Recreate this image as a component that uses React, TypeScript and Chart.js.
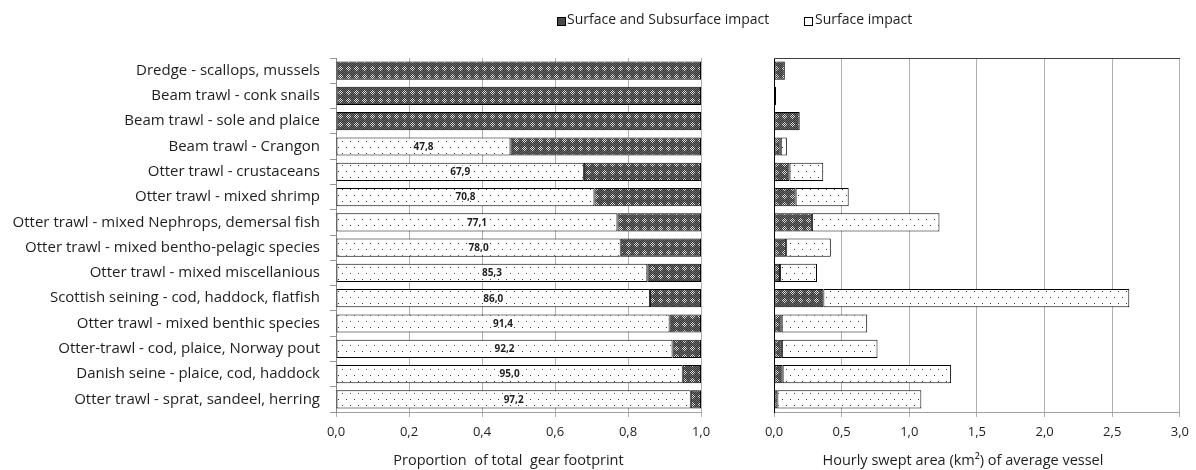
import React, { useEffect, useRef } from "react";
import { Chart, registerables } from "chart.js";

Chart.register(...registerables);

// Gear types, listed top to bottom
const gearTypes = [
  "Dredge - scallops, mussels",
  "Beam trawl - conk snails",
  "Beam trawl - sole and plaice",
  "Beam trawl - Crangon",
  "Otter trawl - crustaceans",
  "Otter trawl - mixed shrimp",
  "Otter trawl - mixed Nephrops, demersal fish",
  "Otter trawl - mixed bentho-pelagic species",
  "Otter trawl - mixed miscellanious",
  "Scottish seining - cod, haddock, flatfish",
  "Otter trawl - mixed benthic species",
  "Otter-trawl - cod, plaice, Norway pout",
  "Danish seine - plaice, cod, haddock",
  "Otter trawl - sprat, sandeel, herring",
];

// Share of the gear footprint (%) by impact type
const surfaceShare = [0, 0, 0, 47.8, 67.9, 70.8, 77.1, 78.0, 85.3, 86.0, 91.4, 92.2, 95.0, 97.2];
const subsurfaceShare = [100, 100, 100, 52.2, 32.1, 29.2, 22.9, 22.0, 14.7, 14.0, 8.6, 7.8, 5.0, 2.8];

// Hourly swept area (km²) of an average vessel, by impact type
const subsurfaceArea = [0.08, 0.015, 0.19, 0.05, 0.115, 0.16, 0.28, 0.09, 0.045, 0.365, 0.057, 0.058, 0.064, 0.025];
const surfaceArea = [0, 0, 0, 0.045, 0.249, 0.392, 0.943, 0.33, 0.273, 2.261, 0.632, 0.707, 1.245, 1.064];

// Axis ranges and tick steps
const shareAxis = { min: 0, max: 1, step: 0.2 };
const areaAxis = { min: 0, max: 3, step: 0.5 };

const legendLabels = ["Surface and Subsurface impact", "Surface impact"];
const shareTitle = "Proportion  of total  gear footprint";
const areaTitle = "Hourly swept area (km\u00b2) of average vessel";

const FONT = "'Open Sans', 'Noto Sans', sans-serif";
const TEXT = "#1e1e1e";
const GRID = "#b0b0b0";

const fmt = (v: number) => Number(v).toFixed(1).replace(".", ",");

// Dark fill: dithered grey with small light diamonds
function darkPattern(): CanvasPattern | string {
  const c = document.createElement("canvas");
  c.width = 8;
  c.height = 8;
  const g = c.getContext("2d");
  if (!g) return "#555";
  g.fillStyle = "#363636";
  g.fillRect(0, 0, 8, 8);
  for (let y = 0; y < 8; y++) {
    for (let x = 0; x < 8; x++) {
      if ((x + y) % 2 !== 0) continue;
      const d = Math.abs(x - 4) + Math.abs(y - 4);
      g.fillStyle = d <= 2 ? "#e0e0e0" : "#6a6a6a";
      g.fillRect(x, y, 1, 1);
    }
  }
  return g.createPattern(c, "repeat") || "#555";
}

// Light fill: sparse staggered dots on white
function dotPattern(): CanvasPattern | string {
  const c = document.createElement("canvas");
  c.width = 8;
  c.height = 12;
  const g = c.getContext("2d");
  if (!g) return "#fff";
  g.fillStyle = "#ffffff";
  g.fillRect(0, 0, 8, 12);
  g.fillStyle = "#3a3a3a";
  g.fillRect(2, 3, 1, 1);
  g.fillRect(6, 9, 1, 1);
  return g.createPattern(c, "repeat") || "#fff";
}

const nonZero = (arr: number[], scale = 1) => arr.map((v) => (v > 0 ? v / scale : null));

// Percentage labels centred in the surface-impact segments
const shareLabels = {
  id: "shareLabels",
  afterDatasetsDraw(chart: any) {
    const meta = chart.getDatasetMeta(0);
    const ctx = chart.ctx;
    ctx.save();
    ctx.font = `bold 10px ${FONT}`;
    ctx.textAlign = "center";
    ctx.textBaseline = "middle";
    meta.data.forEach((el: any, i: number) => {
      const v = surfaceShare[i];
      if (!v) return;
      const { x, y, base } = el.getProps(["x", "y", "base"], true);
      const cx = (x + base) / 2;
      const t = fmt(v);
      ctx.lineWidth = 3;
      ctx.strokeStyle = "#ffffff";
      ctx.strokeText(t, cx, y + 0.5);
      ctx.fillStyle = TEXT;
      ctx.fillText(t, cx, y + 0.5);
    });
    ctx.restore();
  },
};

// Top edge of the swept-area plot frame
const frameTop = {
  id: "frameTop",
  afterDraw(chart: any) {
    const { ctx, chartArea } = chart;
    ctx.save();
    ctx.strokeStyle = "#404040";
    ctx.lineWidth = 1;
    ctx.beginPath();
    ctx.moveTo(chartArea.left, Math.round(chartArea.top) + 0.5);
    ctx.lineTo(chartArea.right, Math.round(chartArea.top) + 0.5);
    ctx.stroke();
    ctx.restore();
  },
};

// Axis title under the value axis, set slightly left of the plot centre
const axisTitle = {
  id: "axisTitle",
  afterDraw(chart: any, _args: any, opts: any) {
    const { ctx, chartArea } = chart;
    ctx.save();
    ctx.font = `14.5px ${FONT}`;
    ctx.fillStyle = TEXT;
    ctx.textAlign = "center";
    ctx.textBaseline = "middle";
    const cx = (chartArea.left + chartArea.right) / 2 + (opts.shift || 0);
    ctx.fillText(opts.text, cx, chartArea.bottom + 49);
    ctx.restore();
  },
};

const tickFont = { family: FONT, size: 13 };
const catFont = { family: FONT, size: 15 };

export default function App() {
  const leftRef = useRef<HTMLCanvasElement>(null);
  const rightRef = useRef<HTMLCanvasElement>(null);

  useEffect(() => {
    if (!leftRef.current || !rightRef.current) return;
    const dark = darkPattern();
    const dots = dotPattern();
    const barStyle = {
      borderColor: "#000",
      borderWidth: 1,
      borderSkipped: false as const,
      barPercentage: 0.72,
      categoryPercentage: 1,
    };

    const left = new Chart(leftRef.current, {
      type: "bar",
      data: {
        labels: gearTypes,
        datasets: [
          { label: legendLabels[1], data: nonZero(surfaceShare, 100), backgroundColor: dots, ...barStyle },
          { label: legendLabels[0], data: nonZero(subsurfaceShare, 100), backgroundColor: dark, ...barStyle },
        ],
      },
      options: {
        indexAxis: "y",
        responsive: false,
        animation: false,
        layout: { padding: { top: 58, right: 19, left: 0, bottom: 0 } },
        plugins: {
          legend: { display: false },
          tooltip: { enabled: false },
          axisTitle: { text: shareTitle, shift: -10 },
        },
        scales: {
          x: {
            stacked: true,
            min: shareAxis.min,
            max: shareAxis.max,
            ticks: { stepSize: shareAxis.step, callback: (v: any) => fmt(v), color: TEXT, font: tickFont, padding: 7 },
            grid: { color: GRID, tickLength: 5 },
            border: { color: "#a0a0a0" },
            afterFit: (s: any) => {
              s.height = 58;
            },
          },
          y: {
            stacked: true,
            ticks: { color: TEXT, font: catFont, padding: 10, autoSkip: false },
            grid: { offset: true, drawOnChartArea: false, tickLength: 6, color: "#999" },
            border: { color: "#888" },
            afterFit: (s: any) => {
              s.width = 336;
            },
          },
        },
      } as any,
      plugins: [shareLabels, axisTitle],
    });

    const right = new Chart(rightRef.current, {
      type: "bar",
      data: {
        labels: gearTypes,
        datasets: [
          { label: legendLabels[0], data: nonZero(subsurfaceArea), backgroundColor: dark, ...barStyle },
          { label: legendLabels[1], data: nonZero(surfaceArea), backgroundColor: dots, ...barStyle },
        ],
      },
      options: {
        indexAxis: "y",
        responsive: false,
        animation: false,
        layout: { padding: { top: 58, right: 13, left: 0, bottom: 0 } },
        plugins: {
          legend: { display: false },
          tooltip: { enabled: false },
          axisTitle: { text: areaTitle, shift: -14 },
        },
        scales: {
          x: {
            stacked: true,
            min: areaAxis.min,
            max: areaAxis.max,
            ticks: { stepSize: areaAxis.step, callback: (v: any) => fmt(v), color: TEXT, font: tickFont, padding: 7 },
            grid: { color: GRID, tickLength: 5 },
            border: { color: "#a0a0a0" },
            afterFit: (s: any) => {
              s.height = 58;
            },
          },
          y: {
            stacked: true,
            ticks: { display: false },
            grid: { display: false },
            border: { display: true, color: "#000" },
            afterFit: (s: any) => {
              s.width = 34;
            },
          },
        },
      } as any,
      plugins: [frameTop, axisTitle],
    });

    return () => {
      left.destroy();
      right.destroy();
    };
  }, []);

  const legendText: React.CSSProperties = {
    position: "absolute",
    top: 10,
    font: `14px ${FONT}`,
    color: TEXT,
    whiteSpace: "pre",
    lineHeight: "18px",
  };
  const swatch: React.CSSProperties = {
    position: "absolute",
    top: 17,
    width: 7,
    height: 7,
    border: "1px solid #000",
  };

  return (
    <div style={{ position: "fixed", left: 0, top: 0, width: 1196, height: 470, background: "#fff" }}>
      <canvas ref={leftRef} width={720} height={470} style={{ position: "absolute", left: 0, top: 0, width: 720, height: 470 }} />
      <canvas ref={rightRef} width={456} height={470} style={{ position: "absolute", left: 740, top: 0, width: 456, height: 470 }} />
      <div style={{ ...swatch, left: 557, background: "#4a4a4a" }} />
      <div style={{ ...legendText, left: 567 }}>{legendLabels[0]}</div>
      <div style={{ ...swatch, left: 804, background: "#fff" }} />
      <div style={{ ...legendText, left: 815 }}>{legendLabels[1]}</div>
    </div>
  );
}
